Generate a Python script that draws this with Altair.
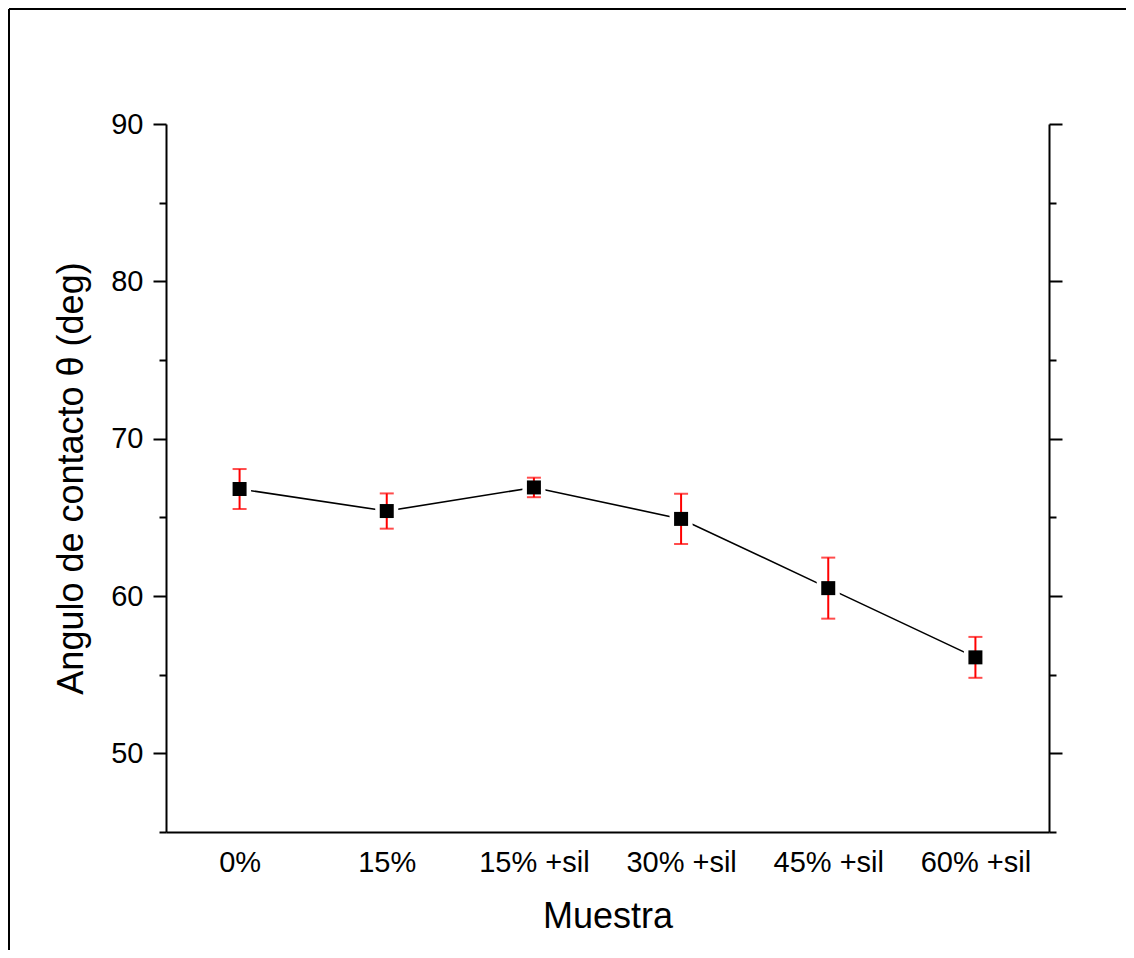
import altair as alt
import pandas as pd

categories = ["0%", "15%", "15% +sil", "30% +sil", "45% +sil", "60% +sil"]
angle_values = [66.8, 65.4, 66.9, 64.9, 60.5, 56.1]
angle_errors = [1.27, 1.12, 0.62, 1.6, 1.94, 1.3]

df = pd.DataFrame({"Muestra": categories, "angle": angle_values, "err": angle_errors})
df["lo"] = df["angle"] - df["err"]
df["hi"] = df["angle"] + df["err"]

FONT = "Liberation Sans"
ydom = [45, 90]
yvals = [45, 50, 55, 60, 65, 70, 75, 80, 85, 90]
tick_cond = {"condition": {"test": "datum.value % 10 === 0", "value": 13}, "value": 7}

x_enc = alt.X(
    "Muestra:N",
    sort=categories,
    scale=alt.Scale(type="point", padding=0.5),
    axis=alt.Axis(
        title="Muestra", ticks=False, tickSize=0, labelPadding=16, labelAngle=0,
        labelFontSize=29, titleFontSize=36, titlePadding=22,
        domainColor="black", domainWidth=2, labelColor="black", titleColor="black",
        labelFont=FONT, titleFont=FONT, titleFontWeight="normal", grid=False,
    ),
)

def yscale():
    return alt.Scale(domain=ydom, nice=False, zero=False)

base = alt.Chart(df)

line = base.mark_line(color="black", strokeWidth=1.6).encode(
    x=x_enc,
    y=alt.Y(
        "angle:Q", scale=yscale(),
        axis=alt.Axis(
            title="Angulo de contacto θ (deg)", values=yvals,
            labelExpr="datum.value % 10 === 0 ? datum.label : ''",
            tickSize=tick_cond, tickWidth=2, tickColor="black",
            domainColor="black", domainWidth=2, labelPadding=10,
            labelFontSize=29, titleFontSize=36, titlePadding=20,
            labelFont=FONT, titleFont=FONT, titleFontWeight="normal",
            labelColor="black", titleColor="black", grid=False,
        ),
    ),
)

halo = base.mark_point(shape="square", filled=True, color="white", opacity=1, size=530).encode(
    x=x_enc, y=alt.Y("angle:Q", scale=yscale(), axis=None)
)

err_rule = base.mark_rule(color="#ff0000", strokeWidth=2).encode(
    x=x_enc, y=alt.Y("lo:Q", scale=yscale(), axis=None), y2="hi:Q"
)
cap_lo = base.mark_tick(color="#ff0000", thickness=2, size=14, orient="horizontal").encode(
    x=x_enc, y=alt.Y("lo:Q", scale=yscale(), axis=None)
)
cap_hi = base.mark_tick(color="#ff0000", thickness=2, size=14, orient="horizontal").encode(
    x=x_enc, y=alt.Y("hi:Q", scale=yscale(), axis=None)
)

squares = base.mark_point(shape="square", filled=True, color="black", opacity=1, size=196).encode(
    x=x_enc, y=alt.Y("angle:Q", scale=yscale(), axis=None)
)

right_axis = base.mark_point(opacity=0).encode(
    x=x_enc,
    y=alt.Y(
        "angle:Q", scale=yscale(),
        axis=alt.Axis(
            orient="right", title=None, values=yvals, labels=False,
            tickSize=tick_cond, tickWidth=2, tickColor="black",
            domainColor="black", domainWidth=2, grid=False,
        ),
    ),
)

frame_df = pd.DataFrame({"k": [0]})
frame_top = alt.Chart(frame_df).mark_rule(color="black", strokeWidth=2).encode(
    x=alt.value(-157), x2=alt.value(960), y=alt.value(-115)
)
frame_left = alt.Chart(frame_df).mark_rule(color="black", strokeWidth=2).encode(
    x=alt.value(-157), y=alt.value(-115), y2=alt.value(826)
)

chart = (
    alt.layer(line, halo, err_rule, cap_lo, cap_hi, squares, right_axis, frame_top, frame_left)
    .resolve_scale(y="independent")
    .properties(
        width=883, height=708,
        padding={"left": 158, "top": 116, "right": 77, "bottom": 118},
        autosize=alt.AutoSizeParams(type="none"),
        background="white",
    )
    .configure_view(stroke=None)
)

chart.save("out.html", embed_options={"renderer": "svg", "actions": False})
